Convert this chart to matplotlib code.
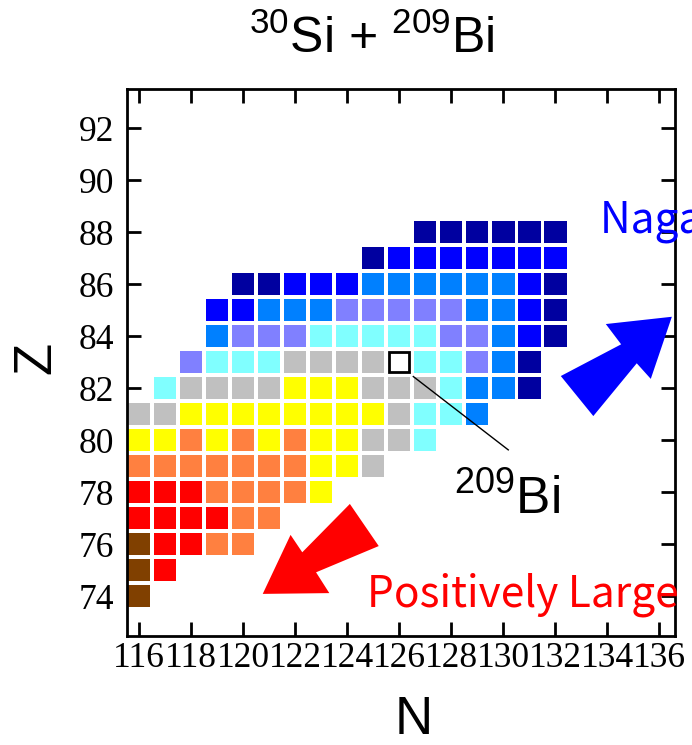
import matplotlib
matplotlib.use('Agg')
import matplotlib.pyplot as plt
from matplotlib.patches import Rectangle, Polygon

plt.rcParams['mathtext.fontset'] = 'custom'
plt.rcParams['mathtext.rm'] = 'Liberation Sans'
plt.rcParams['mathtext.it'] = 'Liberation Sans'

# colour code of every nucleus, one string per Z row, starting at n_start
code_colors = {
    'n': '#0000A0',  # navy
    'b': '#0000FF',  # blue
    'a': '#0080FF',  # azure
    'p': '#8080FF',  # periwinkle
    'c': '#80FFFF',  # light cyan
    'g': '#C0C0C0',  # gray
    'y': '#FFFF00',  # yellow
    'o': '#FF8040',  # orange
    'r': '#FF0000',  # red
    'w': '#804000',  # brown
}
z_values = [88, 87, 86, 85, 84, 83, 82, 81, 80, 79, 78, 77, 76, 75, 74]
n_start = [127, 125, 120, 119, 119, 118, 117, 116, 116, 116, 116, 116, 116, 116, 116]
row_codes = [
    'nnnnnn',
    'nbbbbbbb',
    'nnbbbaaaaaabn',
    'bbaaapppppaabn',
    'apppcccccppabn',
    'pcccggggTccpan',
    'cggggyyygggcaan',
    'ggyyyyyyyygcca',
    'yyoyoyoyyggc',
    'oooooooyyg',
    'rrrooooy',
    'rrrroo',
    'wrroo',
    'wr',
    'w',
]
target_n, target_z = 126, 83

x_ticks = list(range(116, 137, 2))
y_ticks = list(range(74, 93, 2))

fig = plt.figure(figsize=(6.92, 7.45), dpi=100)
ax = fig.add_axes([0.1831, 0.1463, 0.7923, 0.7342])

size = 0.86
for z, n0, codes in zip(z_values, n_start, row_codes):
    for i, ch in enumerate(codes):
        n = n0 + i
        if ch == 'T':
            ax.add_patch(Rectangle((n - size / 2 + 0.04, z - size / 2 + 0.04), size - 0.08, size - 0.08,
                                   facecolor='white', edgecolor='black', linewidth=2, zorder=3))
        else:
            ax.add_patch(Rectangle((n - size / 2, z - size / 2), size, size,
                                   facecolor=code_colors[ch], edgecolor='none', zorder=2))

ax.set_xlim(115.52, 136.6)
ax.set_ylim(72.47, 93.51)
ax.set_xticks(x_ticks)
ax.set_yticks(y_ticks)
ax.set_xticklabels([str(t) for t in x_ticks], fontfamily='Liberation Serif', fontsize=25.5)
ax.set_yticklabels([str(t) for t in y_ticks], fontfamily='Liberation Serif', fontsize=25.5)
ax.tick_params(direction='in', top=True, right=True, length=10, width=2)
ax.tick_params(axis='x', pad=4)
ax.tick_params(axis='y', pad=9)
for sp in ax.spines.values():
    sp.set_linewidth(2)

# arrows
ax.add_patch(Polygon([(136.48, 84.75), (133.94, 84.47), (134.53, 83.69), (132.21, 82.47),
                      (133.46, 80.93), (135.13, 82.96), (135.67, 82.36)],
                     closed=True, facecolor='#0000FF', edgecolor='none', zorder=4))
ax.add_patch(Polygon([(120.75, 74.09), (121.82, 76.36), (122.27, 75.69), (124.10, 77.55),
                      (125.21, 75.93), (122.80, 74.92), (123.31, 74.12)],
                     closed=True, facecolor='#FF0000', edgecolor='none', zorder=4))

# target pointer
ax.plot([target_n + 0.54, 130.19], [target_z - 0.55, 79.63], color='black', linewidth=1, zorder=4)
ax.text(128.1, 77.17, r'$^{209}$Bi', fontsize=37, fontfamily='Liberation Sans',
        ha='left', va='baseline', zorder=5)

ax.text(124.75, 73.6, 'Positively Large', color='#FF0000', fontsize=30.5,
        fontfamily='Noto Sans CJK JP', ha='left', va='baseline', zorder=5)
ax.text(133.72, 87.98, 'Nagatively Large', color='#0000FF', fontsize=30.5,
        fontfamily='Noto Sans CJK JP', ha='left', va='baseline', clip_on=False, zorder=5)

fig.text(372 / 692, 1 - 53 / 745, r'$^{30}$Si + $^{209}$Bi', fontsize=36,
         fontfamily='Liberation Sans', ha='center', va='baseline')
fig.text(36 / 692, 1 - 357.5 / 745, 'Z', fontsize=38, fontfamily='Liberation Sans',
         rotation=90, ha='center', va='center')
fig.text(414 / 692, 1 - 720.5 / 745, 'N', fontsize=38, fontfamily='Liberation Sans',
         ha='center', va='center')

fig.savefig('out.png', dpi=100)
